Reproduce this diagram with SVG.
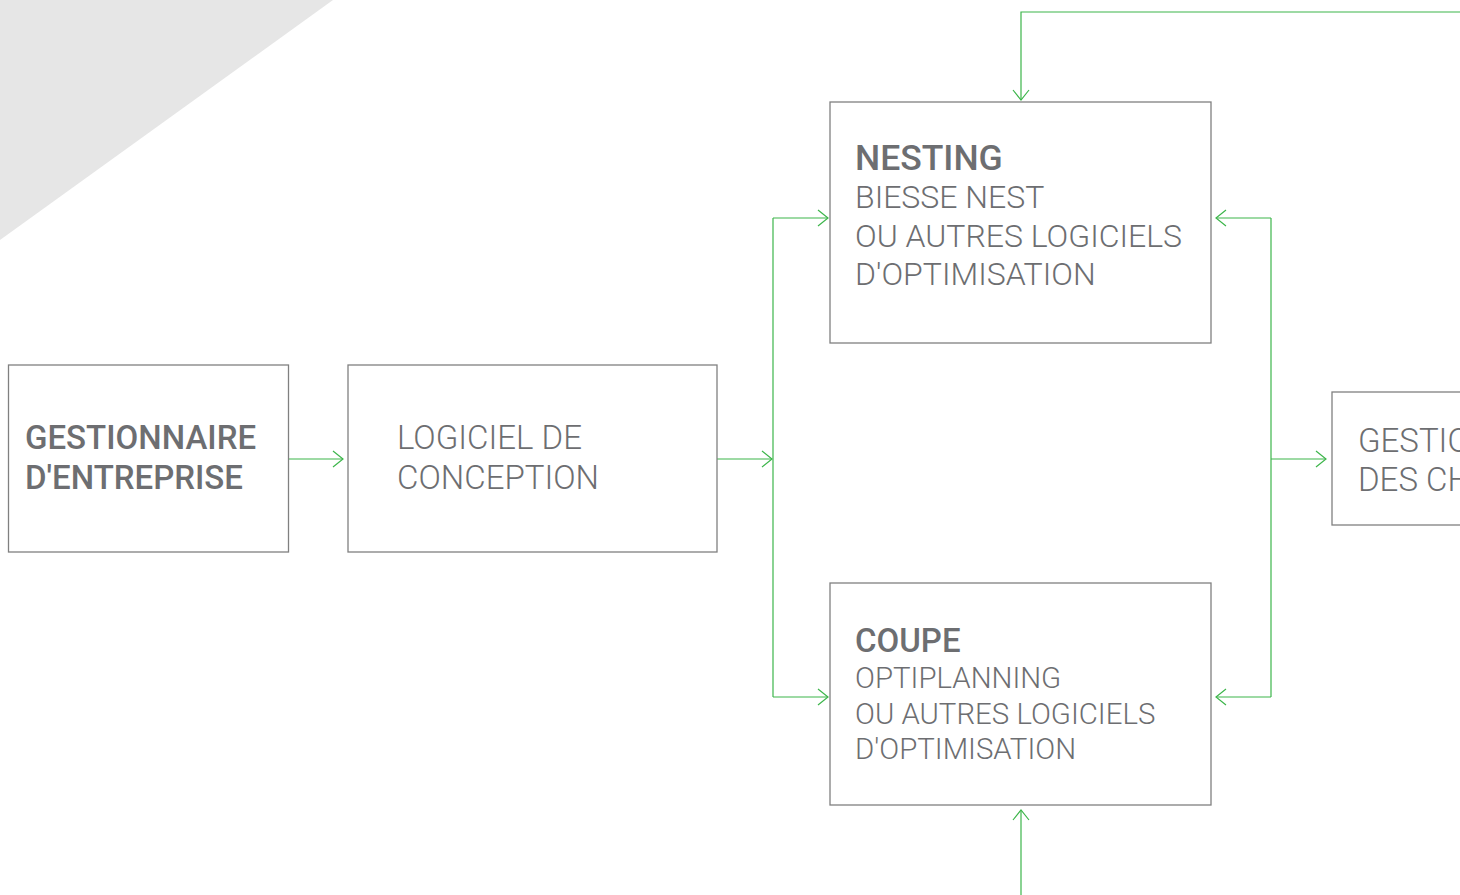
<svg xmlns="http://www.w3.org/2000/svg" width="1460" height="895" viewBox="0 0 1460 895">
<style>
.box{fill:#fff;stroke:#808080;stroke-width:1.3}
.t{font-family:Roboto,"Liberation Sans",sans-serif;fill:#6d6e71}
.b{font-weight:500}
.l{font-weight:300}
.c{fill:none;stroke:#3cb54a;stroke-width:1.2}
</style>
<defs>
<marker id="ah" markerUnits="userSpaceOnUse" markerWidth="14" markerHeight="20" refX="11" refY="9" orient="auto" viewBox="0 0 14 18">
<path d="M1,1 L11,9 L1,17" fill="none" stroke="#3cb54a" stroke-width="1.2"/>
</marker>
</defs>
<rect width="1460" height="895" fill="#fff"/>
<polygon points="0,0 333,0 0,240" fill="#e6e6e6"/>
<g id="connectors">
<path class="c" d="M288,459 H343" marker-end="url(#ah)"/>
<path class="c" d="M717,459 H772" marker-end="url(#ah)"/>
<path class="c" d="M773,218 V697"/>
<path class="c" d="M773,218 H828" marker-end="url(#ah)"/>
<path class="c" d="M773,697 H828" marker-end="url(#ah)"/>
<path class="c" d="M1271,218 V697"/>
<path class="c" d="M1271,218 H1216" marker-end="url(#ah)"/>
<path class="c" d="M1271,697 H1216" marker-end="url(#ah)"/>
<path class="c" d="M1271,459 H1326" marker-end="url(#ah)"/>
<path class="c" d="M1460,12 H1021 V100" marker-end="url(#ah)"/>
<path class="c" d="M1021,895 V810" marker-end="url(#ah)"/>
</g>
<g id="gestionnaire">
<rect class="box" x="8.5" y="365" width="280" height="187"/>
<text class="t b" font-size="33"><tspan x="25" y="449">GESTIONNAIRE</tspan><tspan x="25" y="489">D'ENTREPRISE</tspan></text>
</g>
<g id="conception">
<rect class="box" x="348" y="365" width="369" height="187"/>
<text class="t l" font-size="33"><tspan x="397" y="449">LOGICIEL DE</tspan><tspan x="397" y="489">CONCEPTION</tspan></text>
</g>
<g id="nesting">
<rect class="box" x="830" y="102" width="381" height="241"/>
<text class="t" font-size="32"><tspan class="b" font-size="35.5" x="855" y="170">NESTING</tspan><tspan class="l" x="855" y="208">BIESSE NEST</tspan><tspan class="l" x="855" y="247">OU AUTRES LOGICIELS</tspan><tspan class="l" x="855" y="285">D'OPTIMISATION</tspan></text>
</g>
<g id="coupe">
<rect class="box" x="830" y="583" width="381" height="222"/>
<text class="t" font-size="29.4"><tspan class="b" font-size="33" x="855" y="652">COUPE</tspan><tspan class="l" x="855" y="688">OPTIPLANNING</tspan><tspan class="l" x="855" y="724">OU AUTRES LOGICIELS</tspan><tspan class="l" x="855" y="759">D'OPTIMISATION</tspan></text>
</g>
<g id="gestion">
<rect class="box" x="1332" y="392" width="200" height="133"/>
<text class="t l" font-size="33"><tspan x="1358" y="452">GESTION</tspan><tspan x="1358" y="491">DES CHUTES</tspan></text>
</g>
</svg>
